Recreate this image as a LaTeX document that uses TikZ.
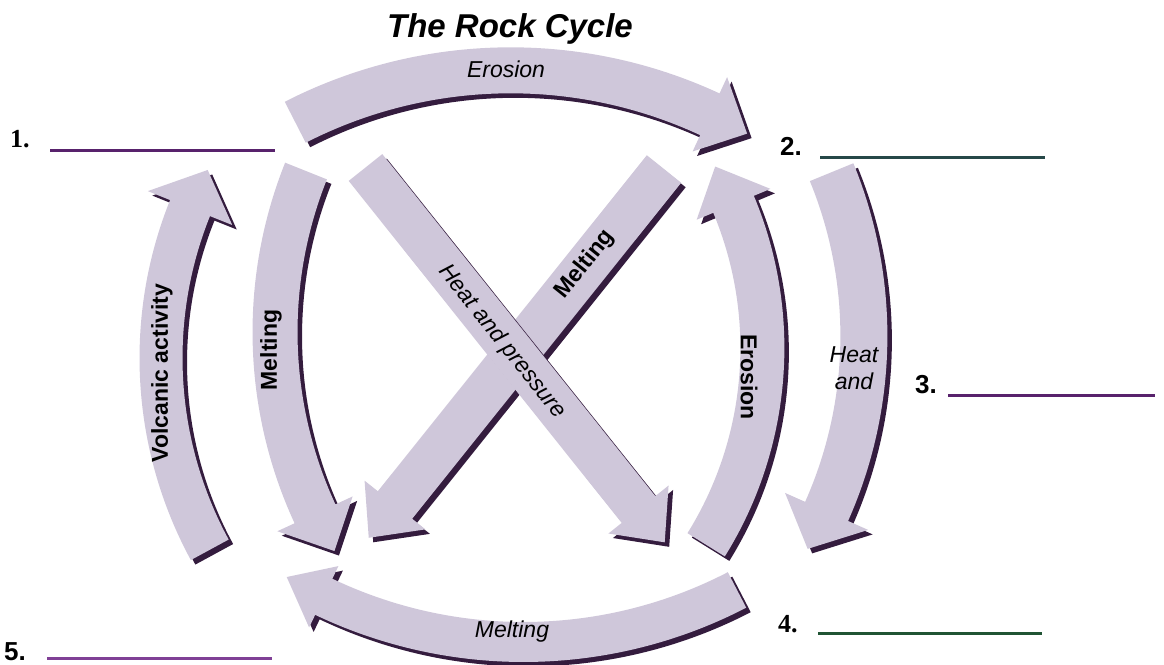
\documentclass[tikz,border=0pt]{standalone}
\usepackage{fontspec}
\setmainfont{Liberation Sans}
\newfontfamily\numserif{Liberation Serif}
\usetikzlibrary{calc}
\definecolor{rockfill}{RGB}{207,199,218}
\definecolor{rockshade}{RGB}{52,28,62}
\definecolor{blankpurple}{RGB}{88,34,108}
\definecolor{blankteal}{RGB}{38,72,72}
\definecolor{blankgreen}{RGB}{32,84,52}
\definecolor{blanklilac}{RGB}{128,64,150}

\begin{document}
\begin{tikzpicture}[
  x=1pt,
  y=-1pt,
  band/.style={fill=rockfill, preaction={fill=rockshade, transform canvas={xshift=4.5pt, yshift=-4.5pt}}},
  lab/.style={inner sep=0pt, font=\fontsize{23}{27}\selectfont\itshape},
  labup/.style={inner sep=0pt, font=\fontsize{23}{27}\selectfont\bfseries},
  numsans/.style={inner sep=0pt, font=\fontsize{26}{30}\selectfont\bfseries},
  numser/.style={inner sep=0pt, font=\fontsize{26}{30}\selectfont\numserif\bfseries},
  blank/.style={line width=3pt}
]
\useasboundingbox (0,0) rectangle (1164,664);

% curved arrows: centre / radius / width / tail angle / head angle / barb overhang
\foreach \cx/\cy/\r/\w/\a/\b/\e in {
  510.7/543.3/473/46/-117.1/-65.1/18,
  432.4/335.9/431.5/47/-22.3/24.0/22,
  390/348/372.4/44/31.9/-22.7/18,
  523.5/178/464/40/62.6/115.5/14,
  563/358/402/43/151.5/201.9/24,
  708.5/332/433.5/45/201.8/155.2/19}{
  \pgfmathsetmacro{\ro}{\r+\w/2}
  \pgfmathsetmacro{\ri}{\r-\w/2}
  \pgfmathsetmacro{\bo}{\ro+\e}
  \pgfmathsetmacro{\bi}{\ri-\e}
  \pgfmathsetmacro{\h}{\b+42/\r*57.296*(2*(\b>\a)-1)}
  \path[band] ([shift={(\cx,\cy)}]\a:\ro) arc[start angle=\a, end angle=\b, radius=\ro]
    -- ([shift={(\cx,\cy)}]\b:\bo) -- ([shift={(\cx,\cy)}]\h:\r)
    -- ([shift={(\cx,\cy)}]\b:\bi) -- ([shift={(\cx,\cy)}]\b:\ri)
    arc[start angle=\b, end angle=\a, radius=\ri] -- cycle;
}

% straight arrows through the middle
\coordinate (meltS) at (664,169);
\coordinate (meltH) at (395,505);
\coordinate (heatS) at (365.5,167.5);
\coordinate (heatH) at (638.5,509.5);
\foreach \s/\t/\hw in {meltS/meltH/22, heatS/heatH/21.5}{
  \pgfmathsetmacro{\bw}{\hw+17}
  \path[band] ($(\s)!\hw pt!90:(\t)$) -- ($(\t)!\hw pt!-90:(\s)$)
    -- ($(\t)!\bw pt!-90:(\s)$) -- ($(\t)!-42pt!(\s)$)
    -- ($(\t)!\bw pt!90:(\s)$) -- ($(\t)!\hw pt!90:(\s)$)
    -- ($(\s)!\hw pt!-90:(\t)$) -- cycle;
}

% labels on the arrows
\node[lab, anchor=base] (erosionTop) at (506,77) {Erosion};
\node[lab, align=center] (heatRight) at (854,368) {Heat\\and};
\node[labup, rotate=-90] (erosionIn) at (749,377) {Erosion};
\node[lab, anchor=base] (meltingBot) at (512,637) {Melting};
\node[labup, rotate=90] (volcanic) at (162,373) {Volcanic activity};
\node[labup, rotate=90] (meltingIn) at (271,350) {Melting};
\node[lab, rotate=-51.5] (heatPress) at (502,342) {Heat and pressure};
\node[labup, rotate=51.3] (meltingDiag) at (585,264) {Melting};

\node[inner sep=0pt, anchor=base, font=\fontsize{33}{38}\selectfont\bfseries\itshape] (title) at (510,37) {The Rock Cycle};

% numbered blanks
\node[numser, anchor=base west] (n1) at (10,147) {1.};
\node[numsans, anchor=base west] (n2) at (780,155) {2.};
\node[numsans, anchor=base west] (n3) at (915,393) {3.};
\node[numser, anchor=base west] (n4) at (778,632) {4.};
\node[numsans, anchor=base west] (n5) at (4,660) {5.};
\foreach \i/\xa/\xb/\y/\col in {
  1/50/275/150/blankpurple,
  2/820/1045/157/blankteal,
  3/948/1155/395/blankpurple,
  4/818/1042/633/blankgreen,
  5/47/272/658/blanklilac}{
  \coordinate (b\i-l) at (\xa,\y);
  \coordinate (b\i-r) at (\xb,\y);
  \draw[blank, draw=\col] (b\i-l) -- (b\i-r);
}
\end{tikzpicture}
\end{document}
